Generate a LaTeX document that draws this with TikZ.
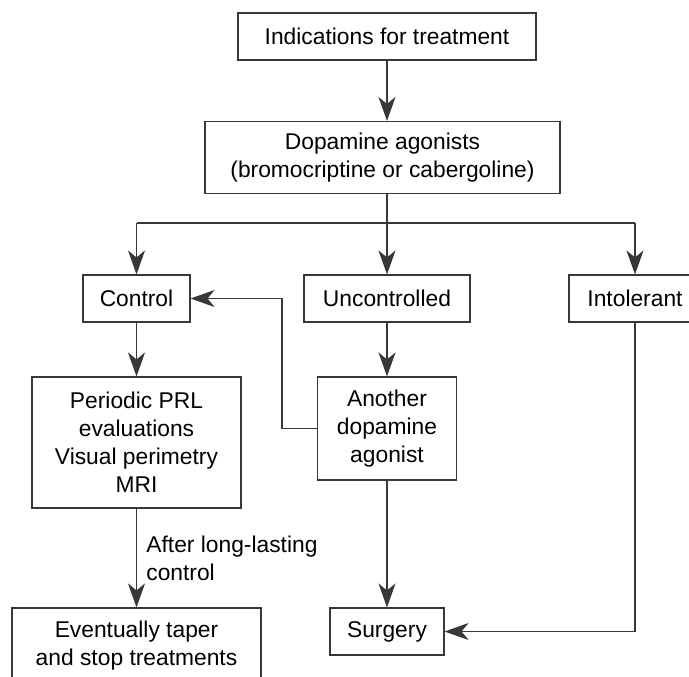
\documentclass[tikz,border=0pt]{standalone}
\usepackage{fontspec}
\setmainfont{Liberation Sans}
\usetikzlibrary{arrows.meta}
\definecolor{lngray}{rgb}{0.22,0.22,0.22}

\begin{document}
\begin{tikzpicture}[x=1pt,y=-1pt,line cap=butt,line join=miter,
  >={Stealth[length=24pt,width=17pt,inset=7pt]},
  font=\fontsize{22.8}{28}\selectfont,
  box/.style={draw=lngray,line width=1.1pt,align=center,inner sep=0pt},
  link/.style={draw=lngray,line width=1.1pt}]
\useasboundingbox (0,0) rectangle (689,677);
\clip (0,0) rectangle (689,677);
% boxes
\node[box,minimum width=298,minimum height=47] (ind) at (387,36.5) {Indications for treatment};
\node[box,minimum width=355,minimum height=72] (dop) at (382.5,157.5) {Dopamine agonists\\(bromocriptine or cabergoline)};
\node[box,minimum width=107,minimum height=47] (ctrl) at (136.5,298.5) {Control};
\node[box,minimum width=166,minimum height=47] (unc) at (387,298.5) {Uncontrolled};
\node[box,minimum width=132,minimum height=47] (intol) at (635,298.5) {Intolerant};
\node[box,minimum width=209,minimum height=131] (per) at (136.5,442.5) {Periodic PRL\\evaluations\\Visual perimetry\\MRI};
\node[box,minimum width=139,minimum height=103] (ano) at (387,428.5) {Another\\dopamine\\agonist};
\node[box,minimum width=249,minimum height=76] (evt) at (136.5,646) {Eventually taper\\and stop treatments};
\node[box,minimum width=114,minimum height=47] (surg) at (387,631.5) {Surgery};
\coordinate (br) at (387,223);
\coordinate (fb) at (282,428.5);
% connectors
\draw[link,->] (ind) -- (ind |- dop.north);
\draw[link,->] (dop.south -| unc) -- (unc);
\draw[link] (ctrl.north |- br) -- (intol.north |- br);
\draw[link,->] (ctrl.north |- br) -- (ctrl.north);
\draw[link,->] (intol.north |- br) -- (intol.north);
\draw[link,->] (ctrl) -- (per);
\draw[link,->] (unc) -- (ano);
\draw[link,->] (ano.west) -- (fb) |- (ctrl.east);
\draw[link,->] (per.south) -- node[right=6pt,align=left] (lbl) {After long-lasting\\control} (evt.north);
\draw[link,->] (ano) -- (surg);
\draw[link,->] (intol.south) |- (surg.east);
\end{tikzpicture}
\end{document}
